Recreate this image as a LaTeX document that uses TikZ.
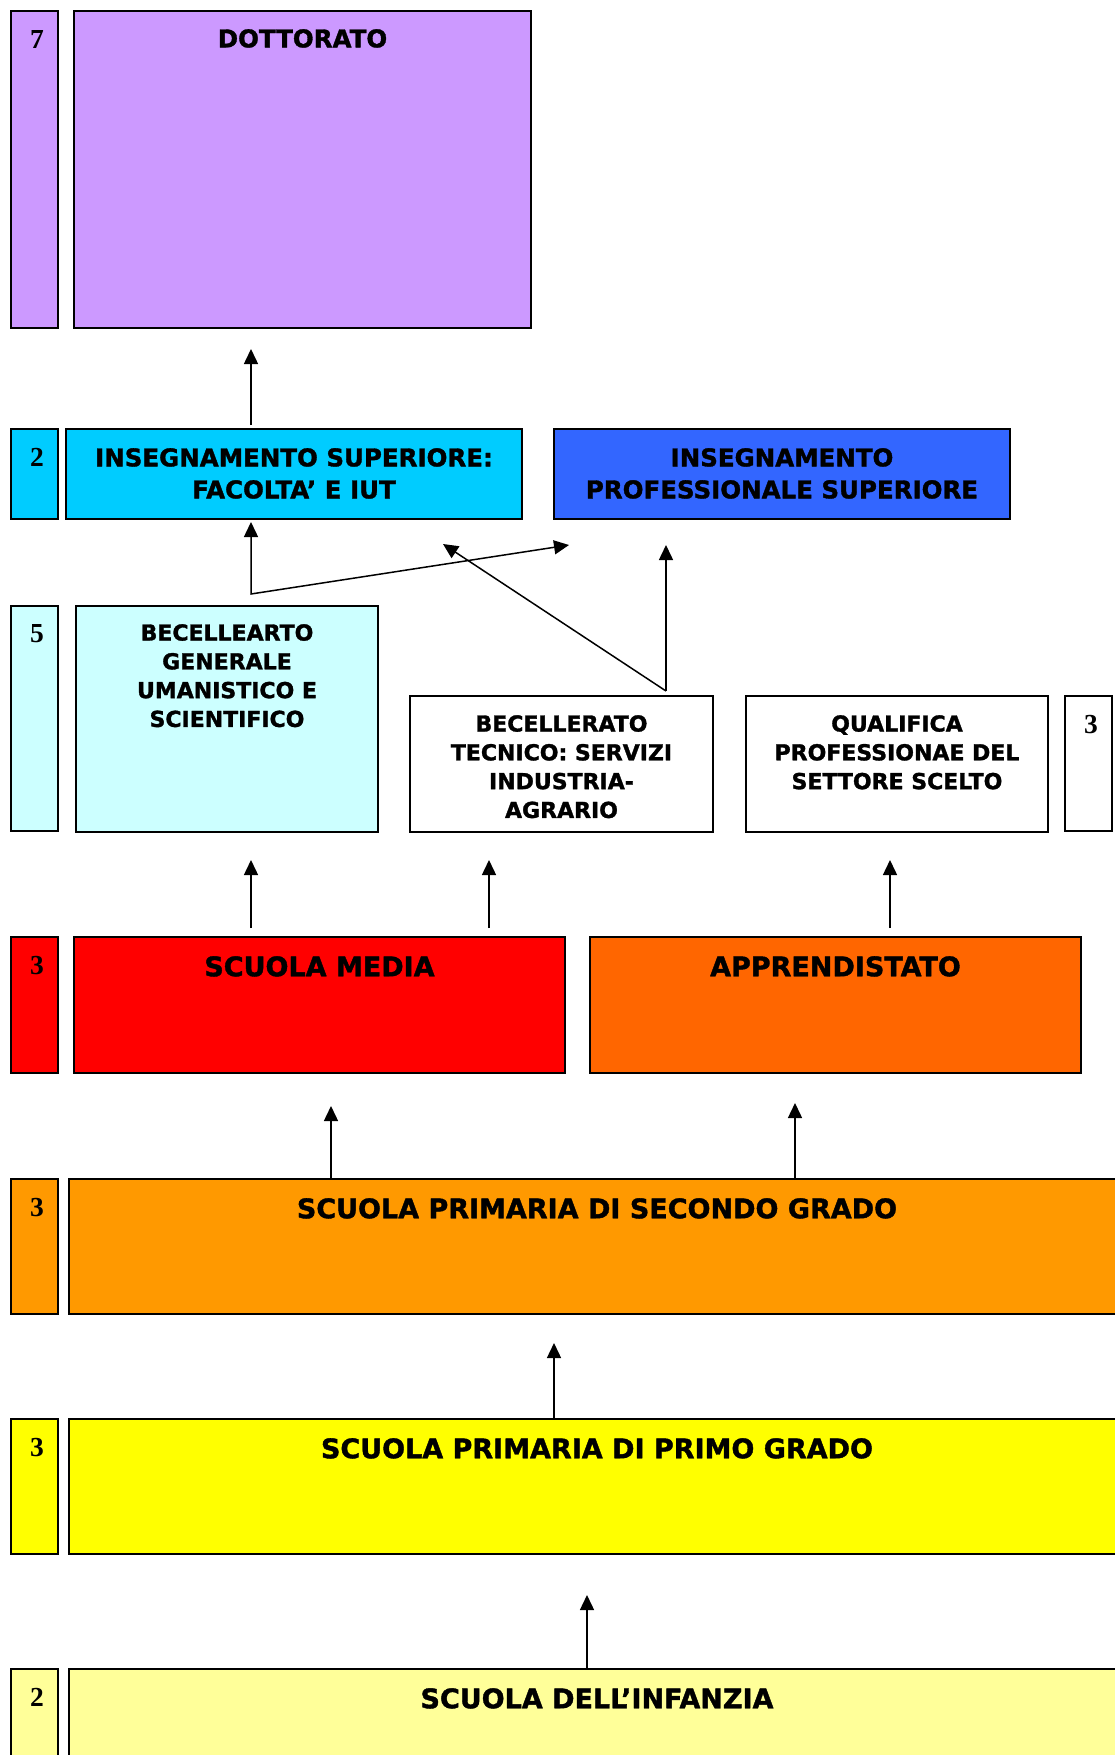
\documentclass[tikz,border=0pt]{standalone}
\usepackage{fontspec}
\setmainfont{DejaVu Sans}[BoldFeatures={FakeBold=1.4}]
\newfontfamily\numf{Liberation Serif}
\usetikzlibrary{arrows.meta}
\definecolor{cPurple}{HTML}{CC99FF}
\definecolor{cCyan}{HTML}{00CCFF}
\definecolor{cBlue}{HTML}{3366FF}
\definecolor{cLCyan}{HTML}{CCFFFF}
\definecolor{cRed}{HTML}{FF0000}
\definecolor{cOrRed}{HTML}{FF6600}
\definecolor{cOrange}{HTML}{FF9900}
\definecolor{cYellow}{HTML}{FFFF00}
\definecolor{cLYellow}{HTML}{FFFF99}
\begin{document}
\begin{tikzpicture}[x=1pt,y=-1pt,
  box/.style={draw=black,line width=2pt,inner sep=0pt,outer sep=0pt,anchor=north west},
  labA/.style={anchor=north,inner sep=0pt,align=center,font=\bfseries\fontsize{24.5}{32}\selectfont},
  labB/.style={anchor=north,inner sep=0pt,align=center,font=\bfseries\fontsize{22}{28.8}\selectfont},
  labC/.style={anchor=north,inner sep=0pt,align=center,font=\bfseries\fontsize{27}{32}\selectfont},
  num/.style={anchor=north,inner sep=0pt,xshift=2.5pt,font=\numf\bfseries\fontsize{27.5}{30}\selectfont},
  arr/.style={draw=black,line width=1.5pt,-{Triangle[length=15pt,width=14pt]}},
  arrb/.style={draw=black,line width=1.5pt,{Triangle[length=15pt,width=14pt]}-{Triangle[length=15pt,width=14pt]}}]
\useasboundingbox (0,0) rectangle (1115,1755);
\clip (0,0) rectangle (1115,1755);
\fill[white] (0,0) rectangle (1115,1755);

% ---- boxes ----
\node[box,fill=cPurple,minimum width=47pt,minimum height=317pt] (n7) at (11,11) {};
\node[box,fill=cPurple,minimum width=457pt,minimum height=317pt] (dott) at (74,11) {};

\node[box,fill=cCyan,minimum width=47pt,minimum height=90pt] (n2a) at (11,429) {};
\node[box,fill=cCyan,minimum width=456pt,minimum height=90pt] (inssup) at (66,429) {};
\node[box,fill=cBlue,minimum width=456pt,minimum height=90pt] (insprof) at (554,429) {};

\node[box,fill=cLCyan,minimum width=47pt,minimum height=225pt] (n5) at (11,606) {};
\node[box,fill=cLCyan,minimum width=302pt,minimum height=226pt] (bec) at (76,606) {};
\node[box,fill=white,minimum width=303pt,minimum height=136pt] (tec) at (410,696) {};
\node[box,fill=white,minimum width=302pt,minimum height=136pt] (qual) at (746,696) {};
\node[box,fill=white,minimum width=47pt,minimum height=135pt] (n3a) at (1065,696) {};

\node[box,fill=cRed,minimum width=47pt,minimum height=136pt] (n3b) at (11,937) {};
\node[box,fill=cRed,minimum width=491pt,minimum height=136pt] (media) at (74,937) {};
\node[box,fill=cOrRed,minimum width=491pt,minimum height=136pt] (appr) at (590,937) {};

\node[box,fill=cOrange,minimum width=47pt,minimum height=135pt] (n3c) at (11,1179) {};
\node[box,fill=cOrange,minimum width=1056pt,minimum height=135pt] (sec) at (69,1179) {};

\node[box,fill=cYellow,minimum width=47pt,minimum height=135pt] (n3d) at (11,1419) {};
\node[box,fill=cYellow,minimum width=1056pt,minimum height=135pt] (prim) at (69,1419) {};

\node[box,fill=cLYellow,minimum width=47pt,minimum height=140pt] (n2b) at (11,1669) {};
\node[box,fill=cLYellow,minimum width=1056pt,minimum height=140pt] (inf) at (69,1669) {};

% ---- labels ----
\node[num] (t7) at ([yshift=-19pt]n7.north) {7};
\node[labA] (tdott) at ([yshift=-18pt]dott.north) {DOTTORATO};
\node[num] (t2a) at ([yshift=-19pt]n2a.north) {2};
\node[labA] (tinssup) at ([yshift=-19pt]inssup.north) {INSEGNAMENTO SUPERIORE:\\FACOLTA’ E IUT};
\node[labA] (tinsprof) at ([yshift=-19pt]insprof.north) {INSEGNAMENTO\\PROFESSIONALE SUPERIORE};
\node[num] (t5) at ([yshift=-18pt]n5.north) {5};
\node[labB] (tbec) at ([yshift=-18pt]bec.north) {BECELLEARTO\\GENERALE\\UMANISTICO E\\SCIENTIFICO};
\node[labB] (ttec) at ([yshift=-19pt]tec.north) {BECELLERATO\\TECNICO: SERVIZI\\INDUSTRIA-\\AGRARIO};
\node[labB] (tqual) at ([yshift=-19pt]qual.north) {QUALIFICA\\PROFESSIONAE DEL\\SETTORE SCELTO};
\node[num] (t3a) at ([yshift=-19pt]n3a.north) {3};
\node[num] (t3b) at ([yshift=-19pt]n3b.north) {3};
\node[labC] (tmedia) at ([yshift=-19pt]media.north) {SCUOLA MEDIA};
\node[labC] (tappr) at ([yshift=-19pt]appr.north) {APPRENDISTATO};
\node[num] (t3c) at ([yshift=-19pt]n3c.north) {3};
\node[labC] (tsec) at ([yshift=-19pt]sec.north) {SCUOLA PRIMARIA DI SECONDO GRADO};
\node[num] (t3d) at ([yshift=-19pt]n3d.north) {3};
\node[labC] (tprim) at ([yshift=-19pt]prim.north) {SCUOLA PRIMARIA DI PRIMO GRADO};
\node[num] (t2b) at ([yshift=-19pt]n2b.north) {2};
\node[labC] (tinf) at ([yshift=-19pt]inf.north) {SCUOLA DELL’INFANZIA};

% ---- connector end points ----
\coordinate (aDs) at (251,425);
\coordinate (aDe) at (251,349);
\coordinate (jn) at (251,594);
\coordinate (jUp) at (251,522);
\coordinate (jRt) at (569,545);
\coordinate (tAp) at (666,691);
\coordinate (tUL) at (443,544);
\coordinate (tUp) at (666,545);
\coordinate (bS1) at (251,928);
\coordinate (bE1) at (251,860);
\coordinate (bS2) at (489,928);
\coordinate (bE2) at (489,860);
\coordinate (bS3) at (890,928);
\coordinate (bE3) at (890,860);
\coordinate (cE1) at (331,1106);
\coordinate (cE2) at (795,1103);
\coordinate (dE) at (554,1343);
\coordinate (eE) at (587,1595);

% ---- connectors ----
\draw[arr] (aDs) -- (aDe);
\draw[arrb] (jUp) -- (jn) -- (jRt);
\draw[arr] (tAp) -- (tUL);
\draw[arr] (tAp) -- (tUp);
\draw[arr] (bS1) -- (bE1);
\draw[arr] (bS2) -- (bE2);
\draw[arr] (bS3) -- (bE3);
\draw[arr] (sec.north -| cE1) -- (cE1);
\draw[arr] (sec.north -| cE2) -- (cE2);
\draw[arr] (prim.north -| dE) -- (dE);
\draw[arr] (inf.north -| eE) -- (eE);
\end{tikzpicture}
\end{document}
